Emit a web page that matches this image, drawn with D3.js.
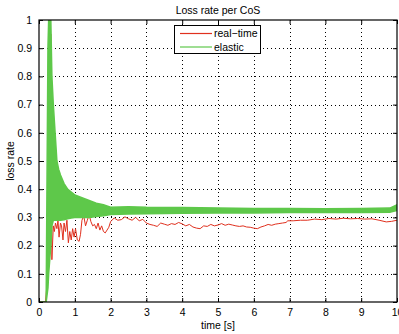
<!DOCTYPE html>
<html>
<head>
<meta charset="utf-8">
<script src="https://cdn.jsdelivr.net/npm/d3@7"></script>
<style>
body { margin: 0; background: #fff; }
text { font-family: "Liberation Sans", Arial, sans-serif; }
</style>
</head>
<body>
<svg id="chart" width="399" height="334"></svg>
<script>
// real-time loss rate [t, value]
const realTime = [
	[0, 0], [0.18, 0], [0.25, 0.1], [0.3, 0.22], [0.33, 0.95], [0.36, 0.15], [0.4, 0.27],
	[0.43, 0.25], [0.46, 0.28], [0.5, 0.26], [0.53, 0.29], [0.56, 0.23], [0.6, 0.28],
	[0.63, 0.27], [0.67, 0.22], [0.7, 0.28], [0.74, 0.25], [0.78, 0.29], [0.82, 0.21],
	[0.86, 0.25], [0.9, 0.22], [0.94, 0.26], [0.98, 0.23], [1.02, 0.26], [1.07, 0.22],
	[1.12, 0.215], [1.16, 0.24], [1.2, 0.29], [1.25, 0.305], [1.3, 0.27], [1.35, 0.29],
	[1.4, 0.31], [1.45, 0.285], [1.5, 0.27], [1.55, 0.275], [1.6, 0.26], [1.65, 0.28],
	[1.7, 0.255], [1.75, 0.27], [1.8, 0.25], [1.85, 0.245], [1.9, 0.255], [1.95, 0.265],
	[2.0, 0.285], [2.1, 0.298], [2.2, 0.29], [2.3, 0.292], [2.4, 0.302], [2.5, 0.295],
	[2.6, 0.29], [2.7, 0.3], [2.8, 0.288], [2.9, 0.293], [3.0, 0.28], [3.1, 0.275],
	[3.2, 0.272], [3.3, 0.268], [3.4, 0.28], [3.5, 0.276], [3.6, 0.272], [3.7, 0.278],
	[3.8, 0.275], [3.9, 0.282], [4.0, 0.277], [4.1, 0.27], [4.2, 0.275], [4.3, 0.266],
	[4.4, 0.262], [4.5, 0.26], [4.6, 0.27], [4.7, 0.268], [4.8, 0.275], [4.9, 0.27],
	[5.0, 0.273], [5.1, 0.278], [5.2, 0.272], [5.3, 0.276], [5.4, 0.273], [5.5, 0.27],
	[5.6, 0.268], [5.7, 0.27], [5.8, 0.266], [5.9, 0.265], [6.0, 0.262], [6.1, 0.26],
	[6.2, 0.266], [6.3, 0.27], [6.4, 0.275], [6.5, 0.272], [6.6, 0.276], [6.7, 0.278],
	[6.8, 0.28], [6.9, 0.282], [6.95, 0.288], [7.1, 0.288], [7.3, 0.29], [7.5, 0.29],
	[7.7, 0.294], [7.9, 0.292], [8.1, 0.296], [8.3, 0.294], [8.5, 0.297], [8.7, 0.295],
	[8.9, 0.296], [9.1, 0.294], [9.3, 0.295], [9.5, 0.29], [9.7, 0.284], [9.85, 0.286],
	[10, 0.29]
];

// elastic loss rate oscillates densely: band edges [t, low, high]
const elasticBand = [
	[0, 0, 0], [0.2, 0, 0], [0.25, 0.05, 0.9], [0.27, 0.1, 1], [0.33, 0.2, 1],
	[0.36, 0.27, 0.8], [0.4, 0.29, 0.7], [0.45, 0.29, 0.6], [0.5, 0.29, 0.5],
	[0.55, 0.29, 0.47], [0.6, 0.29, 0.45], [0.7, 0.292, 0.42], [0.8, 0.295, 0.4],
	[0.9, 0.298, 0.39], [1.0, 0.3, 0.38], [1.2, 0.3, 0.37], [1.4, 0.3, 0.36],
	[1.6, 0.303, 0.35], [1.8, 0.306, 0.345], [2.0, 0.31, 0.336], [2.5, 0.312, 0.338],
	[3.0, 0.313, 0.336], [4.0, 0.315, 0.335], [5.0, 0.316, 0.333], [6.0, 0.316, 0.332],
	[7.0, 0.317, 0.332], [8.0, 0.317, 0.331], [9.0, 0.317, 0.332], [9.8, 0.318, 0.333],
	[10, 0.325, 0.345]
];

const xTicks = [0, 1, 2, 3, 4, 5, 6, 7, 8, 9, 10];
const yTicks = [0, 0.1, 0.2, 0.3, 0.4, 0.5, 0.6, 0.7, 0.8, 0.9, 1];
const seriesNames = ["real\u2212time", "elastic"];
const seriesColors = ["#e0301e", "#5ec84a"];

const svg = d3.select("#chart");
const mLeft = 39, mRight = 397, mTop = 20, mBottom = 302;
const x = d3.scaleLinear().domain([0, 10]).range([mLeft, mRight]);
const y = d3.scaleLinear().domain([0, 1]).range([mBottom, mTop]);

// grid
svg.append("g").selectAll("line").data(xTicks.slice(1, -1)).join("line")
	.attr("x1", d => Math.round(x(d)) + 0.5).attr("x2", d => Math.round(x(d)) + 0.5)
	.attr("y1", mTop).attr("y2", mBottom)
	.attr("stroke", "#000").attr("stroke-width", 1).attr("stroke-dasharray", "1,3");
svg.append("g").selectAll("line").data(yTicks.slice(1, -1)).join("line")
	.attr("x1", mLeft).attr("x2", mRight)
	.attr("y1", d => Math.round(y(d)) + 0.5).attr("y2", d => Math.round(y(d)) + 0.5)
	.attr("stroke", "#000").attr("stroke-width", 1).attr("stroke-dasharray", "1,3");

svg.append("clipPath").attr("id", "clip").append("rect")
	.attr("x", mLeft).attr("y", mTop).attr("width", mRight - mLeft).attr("height", mBottom - mTop);
const plot = svg.append("g").attr("clip-path", "url(#clip)");

// real-time (drawn first, elastic on top)
plot.append("path")
	.datum(realTime)
	.attr("d", d3.line().x(d => x(d[0])).y(d => y(d[1])))
	.attr("fill", "none")
	.attr("stroke", seriesColors[0])
	.attr("stroke-width", 1);

// elastic band
plot.append("path")
	.datum(elasticBand)
	.attr("d", d3.area().x(d => x(d[0])).y0(d => y(d[1])).y1(d => y(d[2])))
	.attr("fill", seriesColors[1])
	.attr("stroke", seriesColors[1])
	.attr("stroke-width", 1.5);

// axes (ticks inside, mirrored)
const tl = 4;
const axB = svg.append("g").attr("transform", `translate(0,${mBottom})`)
	.call(d3.axisBottom(x).tickValues(xTicks).tickSize(-tl).tickPadding(tl + 3).tickFormat(d3.format("d")));
const axT = svg.append("g").attr("transform", `translate(0,${mTop})`)
	.call(d3.axisTop(x).tickValues(xTicks).tickSize(-tl).tickFormat(""));
const axL = svg.append("g").attr("transform", `translate(${mLeft},0)`)
	.call(d3.axisLeft(y).tickValues(yTicks).tickSize(-tl).tickPadding(tl + 3).tickFormat(d => d === 0 || d === 1 ? d3.format("d")(d) : d3.format(".1f")(d)));
const axR = svg.append("g").attr("transform", `translate(${mRight},0)`)
	.call(d3.axisRight(y).tickValues(yTicks).tickSize(-tl).tickFormat(""));
[axB, axT, axL, axR].forEach(a => {
	a.select(".domain").remove();
	a.selectAll("line").attr("stroke", "#000");
	a.selectAll("text").attr("font-size", 10.5).attr("fill", "#000")
		.style("font-family", "'Liberation Sans', Arial, sans-serif");
});

svg.append("rect")
	.attr("x", mLeft).attr("y", mTop).attr("width", mRight - mLeft).attr("height", mBottom - mTop)
	.attr("fill", "none").attr("stroke", "#000").attr("stroke-width", 1.2);

// labels
svg.append("text").attr("x", 218).attr("y", 14).attr("text-anchor", "middle")
	.attr("font-size", 10.5).text("Loss rate per CoS");
svg.append("text").attr("x", 218).attr("y", 329).attr("text-anchor", "middle")
	.attr("font-size", 10.5).text("time [s]");
svg.append("text").attr("transform", "translate(14,161) rotate(-90)").attr("text-anchor", "middle")
	.attr("font-size", 10.5).text("loss rate");

// legend
const lg = svg.append("g");
lg.append("rect").attr("x", 174.5).attr("y", 25.5).attr("width", 86).attr("height", 28)
	.attr("fill", "#fff").attr("stroke", "#000").attr("stroke-width", 1);
seriesNames.forEach((name, i) => {
	const yy = 33.5 + i * 13.5;
	lg.append("line").attr("x1", 180).attr("x2", 212).attr("y1", yy).attr("y2", yy)
		.attr("stroke", seriesColors[i]).attr("stroke-width", 1.2);
	lg.append("text").attr("x", 214).attr("y", yy + 3.8).attr("font-size", 10.5).text(name);
});
</script>
</body>
</html>
